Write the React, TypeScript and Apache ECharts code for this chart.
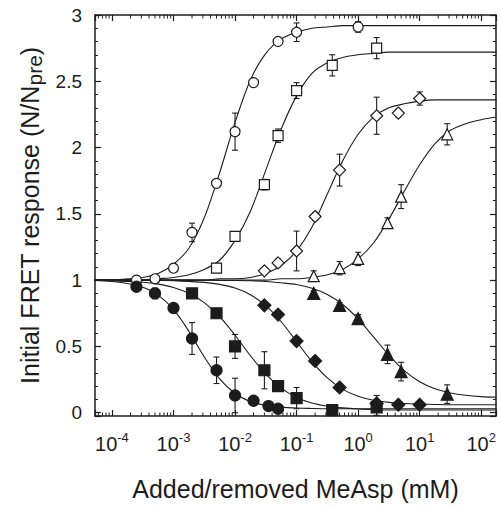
import React, { useEffect, useRef } from 'react';
import * as echarts from 'echarts';

const FONT = '"Liberation Sans", Arial, Helvetica, sans-serif';
const INK = '#1c1c1c';

// axis ranges
const xMin = 5.3e-5;
const xMax = 174;
const yMin = -0.025;
const yMax = 3;
const xDecades = [1e-5, 1e-4, 1e-3, 1e-2, 1e-1, 1, 10, 100];
const minorSteps = [2, 3, 4, 5, 6, 7, 8, 9];
const yTickLabels = ['0', '0.5', '1', '1.5', '2', '2.5', '3'];

// ---- measured points (added MeAsp: open symbols) ----
const openCircleX = [0.00025, 0.0005, 0.001, 0.002, 0.005, 0.01, 0.02, 0.05, 0.1, 1];
const openCircleY = [1.0, 1.01, 1.09, 1.36, 1.73, 2.12, 2.49, 2.8, 2.87, 2.91];
const openCircleErr = [0.01, 0.01, 0.02, 0.07, 0.03, 0.14, 0.03, 0.03, 0.07, 0.04];

const openSquareX = [0.005, 0.01, 0.03, 0.05, 0.1, 0.38, 2];
const openSquareY = [1.09, 1.33, 1.72, 2.09, 2.43, 2.62, 2.75];
const openSquareErr = [0.02, 0.03, 0.04, 0.05, 0.06, 0.08, 0.08];

const openDiamondX = [0.03, 0.05, 0.1, 0.2, 0.5, 2, 4.5, 10];
const openDiamondY = [1.07, 1.13, 1.22, 1.48, 1.83, 2.24, 2.26, 2.37];
const openDiamondErr = [0.02, 0.03, 0.15, 0.03, 0.12, 0.14, 0.03, 0.05];

const openTriangleX = [0.19, 0.5, 1, 3, 5, 28];
const openTriangleY = [1.03, 1.09, 1.16, 1.43, 1.63, 2.1];
const openTriangleErr = [0.04, 0.05, 0.05, 0.04, 0.09, 0.08];

// ---- measured points (removed MeAsp: filled symbols) ----
const filledCircleX = [0.00025, 0.0005, 0.001, 0.002, 0.005, 0.01, 0.02, 0.035, 0.05];
const filledCircleY = [0.95, 0.9, 0.79, 0.56, 0.32, 0.13, 0.09, 0.05, 0.03];
const filledCircleErr = [0.02, 0.04, 0.03, 0.12, 0.1, 0.13, 0.03, 0.03, 0.03];

const filledSquareX = [0.002, 0.005, 0.01, 0.03, 0.05, 0.1, 0.38, 2];
const filledSquareY = [0.9, 0.75, 0.5, 0.32, 0.2, 0.11, 0.02, 0.04];
const filledSquareErr = [0.02, 0.03, 0.09, 0.14, 0.04, 0.08, 0.02, 0.06];

const filledDiamondX = [0.03, 0.05, 0.1, 0.2, 0.5, 2, 4.5, 10];
const filledDiamondY = [0.81, 0.74, 0.54, 0.39, 0.19, 0.07, 0.06, 0.06];
const filledDiamondErr = [0.02, 0.02, 0.03, 0.03, 0.03, 0.06, 0.02, 0.02];

const filledTriangleX = [0.19, 0.5, 1, 3, 5, 28];
const filledTriangleY = [0.9, 0.81, 0.71, 0.44, 0.31, 0.14];
const filledTriangleErr = [0.02, 0.02, 0.03, 0.07, 0.07, 0.07];

// ---- fitted curves at every quarter decade (log10 of mM) ----
const fitLogX = [-4.28, -4, -3.75, -3.5, -3.25, -3, -2.75, -2.5, -2.25, -2, -1.75, -1.5, -1.25, -1,
  -0.75, -0.5, -0.25, 0, 0.25, 0.5, 0.75, 1, 1.25, 1.5, 1.75, 2, 2.25];

const fitOpenCircleY = [1.0, 1.0, 1.01, 1.02, 1.05, 1.12, 1.24, 1.47, 1.81, 2.19, 2.51, 2.71, 2.82, 2.87,
  2.9, 2.91, 2.92, 2.92, 2.92, 2.92, 2.92, 2.92, 2.92, 2.92, 2.92, 2.92, 2.92];
const fitOpenSquareY = [1.0, 1.0, 1.0, 1.0, 1.01, 1.02, 1.04, 1.08, 1.15, 1.3, 1.52, 1.83, 2.14, 2.39,
  2.56, 2.64, 2.68, 2.7, 2.71, 2.72, 2.72, 2.72, 2.72, 2.72, 2.72, 2.72, 2.72];
const fitOpenDiamondY = [1.0, 1.0, 1.0, 1.0, 1.0, 1.0, 1.0, 1.0, 1.01, 1.01, 1.02, 1.05, 1.11, 1.22,
  1.4, 1.65, 1.9, 2.1, 2.23, 2.3, 2.33, 2.35, 2.36, 2.36, 2.36, 2.36, 2.36];
const fitOpenTriangleY = [1.0, 1.0, 1.0, 1.0, 1.0, 1.0, 1.0, 1.0, 1.0, 1.0, 1.0, 1.0, 1.01, 1.01,
  1.02, 1.04, 1.08, 1.16, 1.28, 1.46, 1.67, 1.87, 2.03, 2.13, 2.18, 2.21, 2.23];
const fitFilledCircleY = [1.0, 0.99, 0.975, 0.946, 0.887, 0.779, 0.614, 0.421, 0.255, 0.145, 0.085, 0.056, 0.042, 0.035,
  0.032, 0.03, 0.03, 0.03, 0.03, 0.03, 0.03, 0.03, 0.03, 0.03, 0.03, 0.03, 0.03];
const fitFilledSquareY = [1.0, 0.995, 0.99, 0.984, 0.97, 0.945, 0.9, 0.83, 0.724, 0.584, 0.43, 0.29, 0.185, 0.115,
  0.073, 0.049, 0.036, 0.028, 0.024, 0.02, 0.02, 0.02, 0.02, 0.02, 0.02, 0.02, 0.02];
const fitFilledDiamondY = [1.0, 1.0, 1.0, 1.0, 0.998, 0.995, 0.99, 0.983, 0.968, 0.94, 0.89, 0.807, 0.686, 0.536,
  0.385, 0.262, 0.176, 0.124, 0.094, 0.078, 0.069, 0.065, 0.062, 0.06, 0.06, 0.06, 0.06];
const fitFilledTriangleY = [1.0, 1.0, 1.0, 1.0, 1.0, 1.0, 1.0, 0.999, 0.998, 0.997, 0.995, 0.99, 0.98, 0.967,
  0.939, 0.892, 0.816, 0.707, 0.572, 0.434, 0.317, 0.234, 0.18, 0.149, 0.131, 0.121, 0.116];

type DataSet = {
  x: number[]; y: number[]; err: number[]; fy: number[];
  symbol: string; size: number; filled: boolean;
};

const sets: DataSet[] = [
  { x: openCircleX, y: openCircleY, err: openCircleErr, fy: fitOpenCircleY, symbol: 'circle', size: 10, filled: false },
  { x: openSquareX, y: openSquareY, err: openSquareErr, fy: fitOpenSquareY, symbol: 'rect', size: 10, filled: false },
  { x: openDiamondX, y: openDiamondY, err: openDiamondErr, fy: fitOpenDiamondY, symbol: 'diamond', size: 12, filled: false },
  { x: openTriangleX, y: openTriangleY, err: openTriangleErr, fy: fitOpenTriangleY, symbol: 'triangle', size: 11, filled: false },
  { x: filledCircleX, y: filledCircleY, err: filledCircleErr, fy: fitFilledCircleY, symbol: 'circle', size: 11, filled: true },
  { x: filledSquareX, y: filledSquareY, err: filledSquareErr, fy: fitFilledSquareY, symbol: 'rect', size: 11, filled: true },
  { x: filledDiamondX, y: filledDiamondY, err: filledDiamondErr, fy: fitFilledDiamondY, symbol: 'diamond', size: 13, filled: true },
  { x: filledTriangleX, y: filledTriangleY, err: filledTriangleErr, fy: fitFilledTriangleY, symbol: 'triangle', size: 12, filled: true },
];

const minorTickValues: number[] = [];
xDecades.forEach((d) => minorSteps.forEach((m) => {
  const v = m * d;
  if (v > xMin && v < xMax) minorTickValues.push(v);
}));

export default function App() {
  const ref = useRef<HTMLDivElement>(null);
  useEffect(() => {
    const chart = echarts.init(ref.current!, null, { renderer: 'svg' });

    const axisLine = { show: true, onZero: false, lineStyle: { color: INK, width: 1.5 } };
    const xBase: any = {
      type: 'log', logBase: 10, min: xMin, max: xMax,
      axisLine, splitLine: { show: false },
      axisTick: { show: true, inside: true, length: 6, lineStyle: { color: INK, width: 1.2 } },
    };
    const yBase: any = {
      type: 'value', min: yMin, max: yMax,
      axisLine, splitLine: { show: false },
      axisTick: { show: true, inside: true, length: 6, lineStyle: { color: INK, width: 1.2 } },
      minorTick: { show: true, splitNumber: 5, length: 3, lineStyle: { color: INK, width: 1 } },
    };

    const series: any[] = [];
    sets.forEach((s, i) => {
      series.push({
        type: 'line', name: 'fit' + i,
        data: fitLogX.map((lx, k) => [Math.pow(10, lx), s.fy[k]]),
        smooth: 0.3, showSymbol: false, silent: true,
        lineStyle: { color: INK, width: 1.1 }, z: 2,
      });
      series.push({
        type: 'custom', name: 'err' + i, z: 3, silent: true,
        data: s.x.map((x, k) => [x, s.y[k], s.err[k]]),
        renderItem: (params: any, api: any) => {
          const x = api.value(0), y = api.value(1), e = api.value(2);
          const top = api.coord([x, y + e]);
          const bot = api.coord([x, Math.max(y - e, yMin)]);
          const cap = 3;
          const st = { stroke: INK, lineWidth: 1.1 };
          return {
            type: 'group', children: [
              { type: 'line', shape: { x1: top[0], y1: top[1], x2: bot[0], y2: bot[1] }, style: st },
              { type: 'line', shape: { x1: top[0] - cap, y1: top[1], x2: top[0] + cap, y2: top[1] }, style: st },
              { type: 'line', shape: { x1: bot[0] - cap, y1: bot[1], x2: bot[0] + cap, y2: bot[1] }, style: st },
            ],
          };
        },
      });
      series.push({
        type: 'scatter', name: 'pts' + i, z: 4,
        data: s.x.map((x, k) => [x, s.y[k]]),
        symbol: s.symbol, symbolSize: s.size,
        itemStyle: { color: s.filled ? INK : '#ffffff', borderColor: INK, borderWidth: 1.2, opacity: 1 },
      });
    });

    series.push({
      type: 'custom', name: 'minorTicks', z: 5, silent: true,
      data: minorTickValues.map((v) => [v, yMin]),
      renderItem: (params: any, api: any) => {
        const v = api.value(0);
        const b = api.coord([v, yMin]);
        const t = api.coord([v, yMax]);
        const st = { stroke: INK, lineWidth: 1 };
        return {
          type: 'group', children: [
            { type: 'line', shape: { x1: b[0], y1: b[1], x2: b[0], y2: b[1] - 3.5 }, style: st },
            { type: 'line', shape: { x1: t[0], y1: t[1], x2: t[0], y2: t[1] + 3.5 }, style: st },
          ],
        };
      },
    });

    const option: any = {
      animation: false,
      backgroundColor: '#ffffff',
      grid: { left: 95, top: 15, width: 401, height: 404, containLabel: false },
      xAxis: [
        {
          ...xBase, position: 'bottom',
          name: 'Added/removed MeAsp (mM)', nameLocation: 'middle', nameGap: 60,
          nameTextStyle: { fontFamily: FONT, fontSize: 25, color: INK },
          axisLabel: {
            show: true, margin: 15,
            formatter: (v: number) => {
              const e = Math.log10(v);
              const r = Math.round(e);
              if (Math.abs(e - r) > 1e-6) return '';
              return '{b|10}{s|' + r + '}';
            },
            rich: {
              b: { fontFamily: FONT, fontSize: 20, color: INK, lineHeight: 23, verticalAlign: 'bottom' },
              s: { fontFamily: FONT, fontSize: 13, color: INK, lineHeight: 14, verticalAlign: 'top' },
            },
          },
        },
        { ...xBase, position: 'top', axisLabel: { show: false } },
      ],
      yAxis: [
        {
          ...yBase, position: 'left',
          name: '{m|Initial FRET response (N/N}{sub|pre}{m|)}',
          nameLocation: 'middle', nameGap: 50,
          nameTextStyle: {
            fontFamily: FONT, fontSize: 25, color: INK,
            rich: {
              m: { fontFamily: FONT, fontSize: 25, color: INK, lineHeight: 27, verticalAlign: 'top' },
              sub: { fontFamily: FONT, fontSize: 21, color: INK, lineHeight: 22, verticalAlign: 'bottom', padding: [10, 0, 0, 0] },
            },
          },
          axisLabel: {
            show: true, margin: 13, fontFamily: FONT, fontSize: 19, color: INK,
            formatter: (v: number) => {
              const k = Math.round(v * 2);
              if (Math.abs(v * 2 - k) > 1e-6 || k < 0) return '';
              return yTickLabels[k];
            },
          },
        },
        { ...yBase, position: 'right', axisLabel: { show: false } },
      ],
      series,
    };
    chart.setOption(option);
    return () => chart.dispose();
  }, []);
  return <div ref={ref} style={{ position: 'fixed', left: 0, top: 0, width: 501, height: 506 }} />;
}
